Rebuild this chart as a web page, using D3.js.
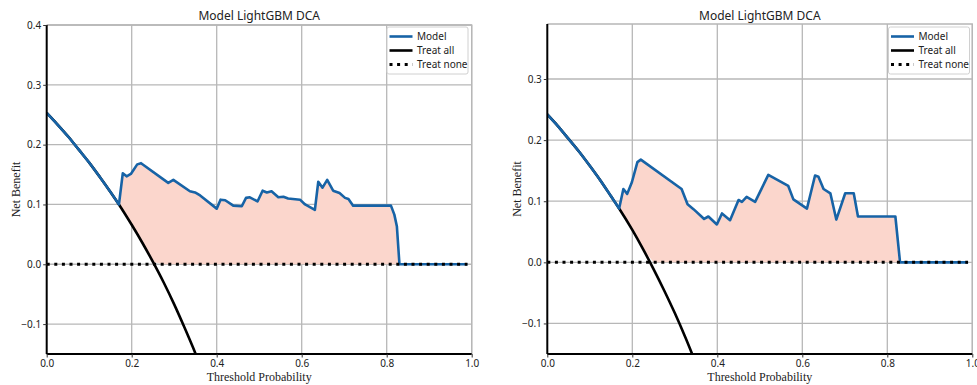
<!DOCTYPE html>
<html>
<head>
<meta charset="utf-8">
<script src="https://cdn.jsdelivr.net/npm/d3@7"></script>
<style>
  body { margin: 0; background: #fff; }
  svg text { fill: #222; }
</style>
</head>
<body>
<div id="graph"></div>
<script>
// ---- values (threshold, net benefit) ----
var title = "Model LightGBM DCA";
var seriesNames = ["Model", "Treat all", "Treat none"];
var xTicks = [0, 0.2, 0.4, 0.6, 0.8, 1.0];
var yTicksLeft = [-0.1, 0, 0.1, 0.2, 0.3, 0.4];
var yTicksRight = [-0.1, 0, 0.1, 0.2, 0.3];

// left panel
var modelLeftT  = [0, 0.025, 0.05, 0.075, 0.10, 0.125, 0.15, 0.170, 0.179, 0.188, 0.198, 0.213, 0.222, 0.286, 0.298, 0.337, 0.349, 0.361, 0.400, 0.409, 0.420, 0.439, 0.459, 0.469, 0.478, 0.496, 0.508, 0.518, 0.529, 0.545, 0.557, 0.568, 0.596, 0.608, 0.631, 0.639, 0.649, 0.660, 0.674, 0.689, 0.702, 0.710, 0.721, 0.810, 0.818, 0.824, 0.830, 0.99];
var modelLeftNB = [0.253, 0.234, 0.214, 0.192, 0.170, 0.146, 0.121, 0.100, 0.152, 0.147, 0.151, 0.167, 0.169, 0.136, 0.141, 0.122, 0.120, 0.115, 0.093, 0.108, 0.107, 0.098, 0.097, 0.111, 0.112, 0.105, 0.123, 0.120, 0.122, 0.112, 0.113, 0.110, 0.108, 0.100, 0.091, 0.138, 0.128, 0.141, 0.123, 0.119, 0.111, 0.109, 0.098, 0.098, 0.083, 0.063, 0.0, 0.0];
var allLeftT  = [0, 0.025, 0.05, 0.075, 0.10, 0.125, 0.15, 0.170, 0.20, 0.225, 0.25, 0.275, 0.30, 0.325, 0.35, 0.375];
var allLeftNB = [0.253, 0.234, 0.214, 0.192, 0.170, 0.146, 0.121, 0.100, 0.066, 0.036, 0.004, -0.030, -0.067, -0.107, -0.149, -0.195];

// right panel
var modelRightT  = [0, 0.025, 0.05, 0.075, 0.10, 0.125, 0.15, 0.169, 0.179, 0.188, 0.199, 0.212, 0.220, 0.316, 0.330, 0.344, 0.369, 0.379, 0.399, 0.411, 0.430, 0.450, 0.458, 0.469, 0.489, 0.520, 0.567, 0.579, 0.611, 0.630, 0.638, 0.650, 0.666, 0.680, 0.701, 0.721, 0.731, 0.819, 0.830, 0.99];
var modelRightNB = [0.242, 0.223, 0.202, 0.181, 0.158, 0.134, 0.108, 0.088, 0.120, 0.112, 0.131, 0.164, 0.168, 0.120, 0.095, 0.087, 0.071, 0.075, 0.062, 0.080, 0.069, 0.102, 0.099, 0.107, 0.099, 0.143, 0.125, 0.103, 0.088, 0.142, 0.140, 0.120, 0.113, 0.070, 0.113, 0.113, 0.075, 0.075, 0.0, 0.0];
var allRightT  = [0, 0.025, 0.05, 0.075, 0.10, 0.125, 0.15, 0.169, 0.20, 0.225, 0.25, 0.275, 0.30, 0.325, 0.35];
var allRightNB = [0.242, 0.223, 0.202, 0.181, 0.158, 0.134, 0.108, 0.088, 0.053, 0.022, -0.011, -0.046, -0.083, -0.123, -0.166];

var noneT  = [0, 0.99];
var noneNB = [0, 0];

var panels = [
  { left: 46.7, right: 471.7, top: 25, bottom: 354, ymin: -0.15, ymax: 0.4, yTicks: yTicksLeft,
    ylabX: 19.5, modelT: modelLeftT, modelNB: modelLeftNB, allT: allLeftT, allNB: allLeftNB,
    legX: 387, legW: 81 },
  { left: 547.3, right: 972.3, top: 24, bottom: 354, ymin: -0.15, ymax: 0.39, yTicks: yTicksRight,
    ylabX: 520.5, modelT: modelRightT, modelNB: modelRightNB, allT: allRightT, allNB: allRightNB,
    legX: 888.5, legW: 81 }
];

var colors = { model: "#1763a6", all: "#000", none: "#000", fill: "#fbd6cc", grid: "#b7b7b7" };

var svg = d3.select("#graph").append("svg")
  .attr("width", 977).attr("height", 385);

panels.forEach(function (p, i) {
  var x = d3.scaleLinear().domain([0, 1]).range([p.left, p.right]);
  var y = d3.scaleLinear().domain([p.ymin, p.ymax]).range([p.bottom, p.top]);

  var g = svg.append("g");
  var clipId = "clip" + i;
  svg.append("clipPath").attr("id", clipId).append("rect")
    .attr("x", p.left).attr("y", p.top)
    .attr("width", p.right - p.left).attr("height", p.bottom - p.top);

  // grid
  g.selectAll(".gx").data(xTicks.slice(1)).enter().append("line")
    .attr("x1", d => x(d)).attr("x2", d => x(d))
    .attr("y1", p.top).attr("y2", p.bottom)
    .attr("stroke", colors.grid).attr("stroke-width", 1.3);
  g.selectAll(".gy").data(p.yTicks).enter().append("line")
    .attr("x1", p.left).attr("x2", p.right)
    .attr("y1", d => y(d)).attr("y2", d => y(d))
    .attr("stroke", colors.grid).attr("stroke-width", 1.3);
  // top / right frame
  g.append("path")
    .attr("d", "M" + p.left + "," + p.top + "H" + p.right + "V" + p.bottom)
    .attr("fill", "none").attr("stroke", colors.grid).attr("stroke-width", 1.3);

  var pts = p.modelT.map((t, k) => [t, p.modelNB[k]]);
  var allPts = p.allT.map((t, k) => [t, p.allNB[k]]);
  var allAt = d3.scaleLinear().domain(p.allT).range(p.allNB).clamp(true);
  var modelAt = d3.scaleLinear().domain(p.modelT).range(p.modelNB);
  var t0 = p.modelT[7];   // where model leaves the treat-all curve

  // shaded gain: between model and max(treat all, treat none)
  var ts = p.modelT.filter(t => t >= t0)
    .concat(p.allT.filter((t, k) => t > t0 && p.allNB[k] > -0.05));
  ts = Array.from(new Set(ts)).sort((a, b) => a - b);
  g.append("path")
    .datum(ts)
    .attr("clip-path", "url(#" + clipId + ")")
    .attr("fill", colors.fill)
    .attr("d", d3.area()
      .x(t => x(t))
      .y0(t => y(Math.max(0, allAt(t))))
      .y1(t => y(Math.max(0, modelAt(t)))));

  var line = d3.line().x(d => x(d[0])).y(d => y(d[1]));

  g.append("path").datum(allPts)
    .attr("clip-path", "url(#" + clipId + ")")
    .attr("d", line.curve(d3.curveMonotoneX)).attr("fill", "none")
    .attr("stroke", colors.all).attr("stroke-width", 2.6);

  g.append("path").datum(pts)
    .attr("clip-path", "url(#" + clipId + ")")
    .attr("d", line.curve(d3.curveLinear)).attr("fill", "none")
    .attr("stroke", colors.model).attr("stroke-width", 2.6)
    .attr("stroke-linejoin", "round");

  g.append("path").datum(noneT.map((t, k) => [t, noneNB[k]]))
    .attr("d", line).attr("fill", "none")
    .attr("stroke", colors.none).attr("stroke-width", 3)
    .attr("stroke-dasharray", "3,4.6");

  // axes
  var xAxis = d3.axisBottom(x).tickValues(xTicks).tickFormat(d3.format(".1f")).tickSize(3.5).tickPadding(2);
  var yAxis = d3.axisLeft(y).tickValues(p.yTicks)
    .tickFormat(d3.format(".1f")).tickSize(3.5).tickPadding(2);
  var xa = g.append("g").attr("transform", "translate(0," + p.bottom + ")").call(xAxis);
  var ya = g.append("g").attr("transform", "translate(" + p.left + ",0)").call(yAxis);
  [xa, ya].forEach(function (a) {
    a.select(".domain").attr("stroke", "#000").attr("stroke-width", 2);
    a.selectAll(".tick line").attr("stroke", "#333").attr("stroke-width", 1);
    a.selectAll("text").attr("font-family", "'Noto Sans', sans-serif").attr("font-size", 10).attr("fill", "#222");
  });
  ya.select(".domain").attr("d", "M0," + p.bottom + "V" + p.top);
  xa.select(".domain").attr("d", "M" + p.left + ",0H" + p.right);

  // title + axis labels
  g.append("text").attr("x", (p.left + p.right) / 2).attr("y", 20)
    .attr("text-anchor", "middle").attr("font-family", "'Noto Sans', sans-serif")
    .attr("font-size", 12).text(title);
  g.append("text").attr("x", (p.left + p.right) / 2).attr("y", 381)
    .attr("text-anchor", "middle").attr("font-family", "'Liberation Serif', serif")
    .attr("font-size", 12).text("Threshold Probability");
  g.append("text").attr("transform", "translate(" + p.ylabX + "," + ((p.top + p.bottom) / 2) + ") rotate(-90)")
    .attr("text-anchor", "middle").attr("font-family", "'Liberation Serif', serif")
    .attr("font-size", 12).text("Net Benefit");

  // legend
  var leg = g.append("g").attr("transform", "translate(" + p.legX + ",27)");
  leg.append("rect").attr("width", p.legW).attr("height", 47).attr("rx", 2)
    .attr("fill", "#fff").attr("fill-opacity", 0.85).attr("stroke", "#d0d0d0");
  var styles = [
    { c: colors.model, dash: null, w: 2.6 },
    { c: colors.all, dash: null, w: 2.6 },
    { c: colors.none, dash: "3,4.6", w: 3 }
  ];
  seriesNames.forEach(function (name, k) {
    var yy = 9.5 + k * 14;
    leg.append("line").attr("x1", 2.5).attr("x2", 25.5).attr("y1", yy).attr("y2", yy)
      .attr("stroke", styles[k].c).attr("stroke-width", styles[k].w)
      .attr("stroke-dasharray", styles[k].dash);
    leg.append("text").attr("x", 30).attr("y", yy + 3.5)
      .attr("font-family", "'Noto Sans', sans-serif").attr("font-size", 10).text(name);
  });
});
</script>
</body>
</html>
